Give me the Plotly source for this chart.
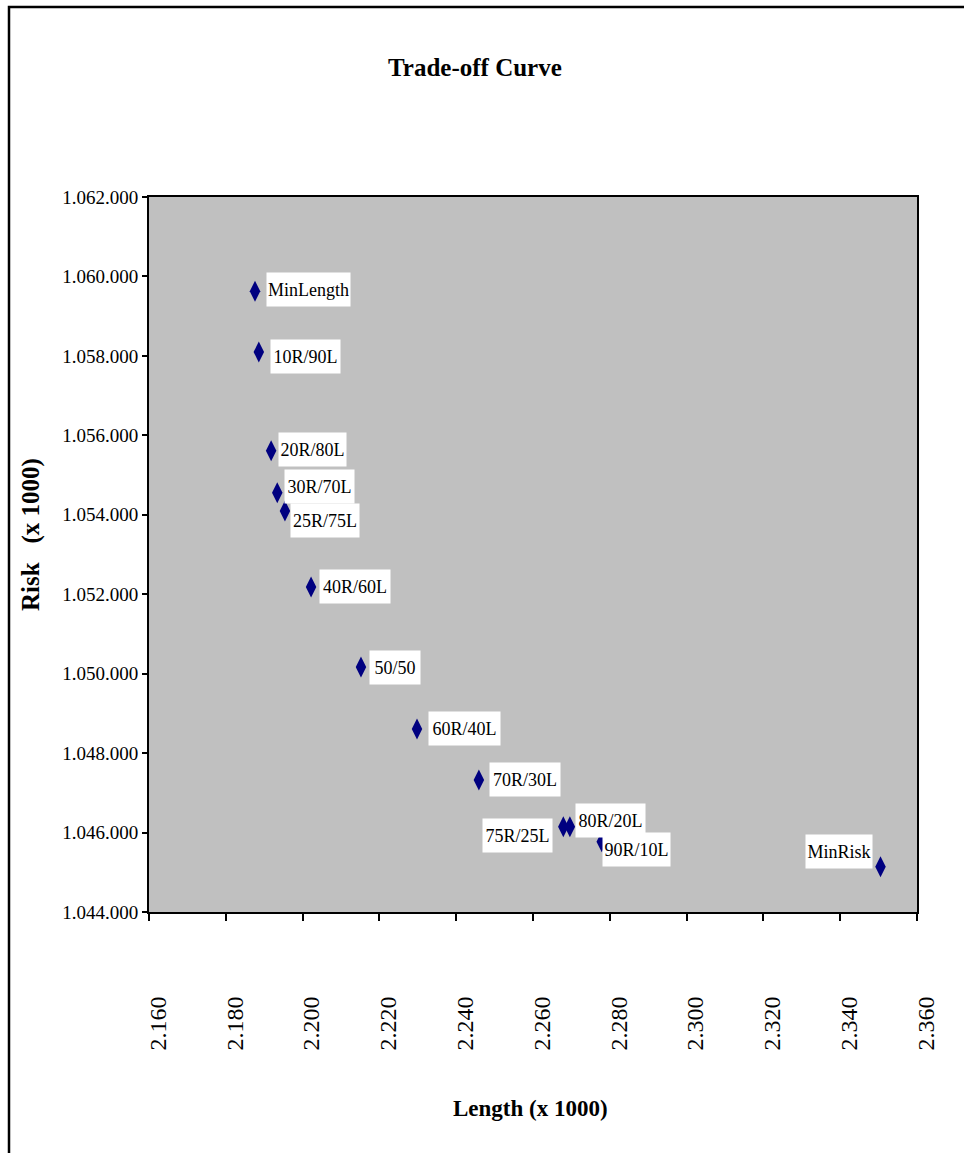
import plotly.graph_objects as go

# Trade-off points: Length and Risk (both in units of x 1000)
labels = ["MinLength", "10R/90L", "20R/80L", "30R/70L", "25R/75L", "40R/60L",
          "50/50", "60R/40L", "70R/30L", "75R/25L", "80R/20L", "90R/10L", "MinRisk"]
length = [2187.6, 2188.6, 2191.8, 2193.4, 2195.4, 2202.2,
          2215.2, 2229.8, 2245.9, 2267.9, 2269.6, 2277.9, 2350.5]
risk = [1059630, 1058098, 1055613, 1054556, 1054095, 1052182,
        1050168, 1048607, 1047323, 1046147, 1046147, 1045770, 1045141]

# label box offsets from each marker (pixels, x right / y up) and box widths
label_dx = [53.5, 46.5, 41.5, 42.2, 40, 44, 34, 47.5, 46, -46.3, 41, 34.8, -41.2]
label_dy = [1.5, -4.5, 1.7, 6.2, -9.5, 0, -1, 0.5, 1, -9, 6.7, -8.3, 14.7]
label_w = [83, 69, 67, 69, 68, 70, 50, 71, 70, 69, 69, 67, 66]

W, H = 964, 1153
L, T, PW, PH = 149, 197, 768, 715
R, B = W - L - PW, H - T - PH


def px_x(px):
    return (px - L) / PW


def px_y(py):
    return (T + PH - py) / PH


FONT = "Liberation Serif"

fig = go.Figure()
fig.add_trace(go.Scatter(
    x=length, y=risk, mode="markers",
    marker=dict(symbol="diamond-tall", size=15, color="#000080",
                line=dict(width=0)),
    hoverinfo="x+y+text", text=labels, showlegend=False,
))

annotations = []
for lab, x, y, dx, dy, w in zip(labels, length, risk, label_dx, label_dy, label_w):
    annotations.append(dict(
        x=x, y=y, xref="x", yref="y", text=lab, showarrow=False,
        xshift=dx, yshift=dy, xanchor="center", yanchor="middle",
        width=w, height=33, bgcolor="white", borderpad=0,
        font=dict(family=FONT, size=18, color="black"),
    ))

# chart and axis titles
annotations.append(dict(
    text="<b>Trade-off Curve</b>", x=px_x(475), y=px_y(68),
    xref="paper", yref="paper", showarrow=False,
    xanchor="center", yanchor="middle",
    font=dict(family=FONT, size=25, color="black"),
))
annotations.append(dict(
    text="<b>Length (x 1000)</b>", x=px_x(530), y=px_y(1108),
    xref="paper", yref="paper", showarrow=False,
    xanchor="center", yanchor="middle",
    font=dict(family=FONT, size=23, color="black"),
))
annotations.append(dict(
    text="<b>Risk&nbsp;&nbsp;&nbsp;(x 1000)</b>", x=px_x(31), y=px_y(535),
    xref="paper", yref="paper", showarrow=False, textangle=-90,
    xanchor="center", yanchor="middle",
    font=dict(family=FONT, size=25, color="black"),
))

fig.update_layout(
    width=W, height=H,
    margin=dict(l=L, r=R, t=T, b=B, pad=0),
    paper_bgcolor="white", plot_bgcolor="#C0C0C0",
    separators=",.",
    annotations=annotations,
    shapes=[dict(
        type="rect", xref="paper", yref="paper",
        x0=px_x(9), x1=px_x(975), y0=px_y(1170), y1=px_y(7),
        line=dict(color="black", width=2.5), layer="below",
    )],
)

fig.update_xaxes(
    range=[2160, 2360], dtick=20, tick0=2160, tickformat=",d",
    showgrid=False, zeroline=False,
    showline=True, linecolor="black", linewidth=2, mirror=True,
    ticks="outside", ticklen=7, tickwidth=2, tickcolor="black",
    tickangle=-90, ticklabelstandoff=66, ticklabelshift=9,
    tickfont=dict(family=FONT, size=24, color="black"),
)
fig.update_yaxes(
    range=[1044000, 1062000], dtick=2000, tick0=1044000, tickformat=",d",
    showgrid=False, zeroline=False,
    showline=True, linecolor="black", linewidth=2, mirror=True,
    ticks="outside", ticklen=5, tickwidth=2, tickcolor="black",
    tickfont=dict(family=FONT, size=19, color="black"),
)

fig.write_html("out.html")
